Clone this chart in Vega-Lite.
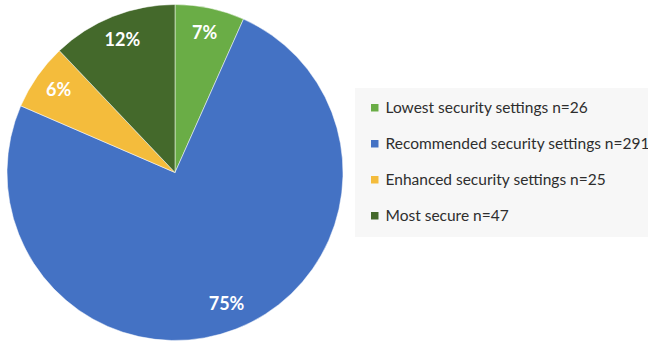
{
  "$schema": "https://vega.github.io/schema/vega-lite/v6.json",
  "autosize": "none",
  "width": 350,
  "height": 345,
  "padding": {"left": 0, "top": 0, "right": 298, "bottom": 9},
  "background": "white",
  "config": {"view": {"stroke": null}, "font": "Lato"},
  "data": {
    "values": [
      {"category": "Lowest security settings n=26", "n": 26, "label": "7%", "order": 1},
      {"category": "Recommended security settings n=291", "n": 291, "label": "75%", "order": 2},
      {"category": "Enhanced security settings n=25", "n": 25, "label": "6%", "order": 3},
      {"category": "Most secure n=47", "n": 47, "label": "12%", "order": 4}
    ]
  },
  "encoding": {
    "theta": {"field": "n", "type": "quantitative", "stack": true},
    "order": {"field": "order", "type": "quantitative"},
    "color": {
      "field": "category",
      "type": "nominal",
      "sort": null,
      "scale": {
        "domain": ["Lowest security settings n=26", "Recommended security settings n=291", "Enhanced security settings n=25", "Most secure n=47"],
        "range": ["#6aad46", "#4472c4", "#f4bc3c", "#44692b"]
      },
      "legend": {
        "title": null,
        "orient": "none",
        "legendX": 355,
        "legendY": 88,
        "padding": 12,
        "fillColor": "#f7f7f7",
        "symbolType": "square",
        "symbolSize": 56,
        "symbolStrokeWidth": 0,
        "labelFontSize": 15.5,
        "labelFont": "Lato",
        "labelColor": "#2e2e2e",
        "labelLimit": 400,
        "rowPadding": 19,
        "labelOffset": 3
      }
    }
  },
  "layer": [
    {"mark": {"type": "arc", "outerRadius": 168, "stroke": "white", "strokeWidth": 0.5}},
    {
      "mark": {"type": "text", "radius": 142, "fontSize": 18, "fontWeight": "bold", "font": "Lato", "fill": "white"},
      "encoding": {
        "text": {"field": "label", "type": "nominal"},
        "color": {"value": "white"}
      }
    }
  ]
}
